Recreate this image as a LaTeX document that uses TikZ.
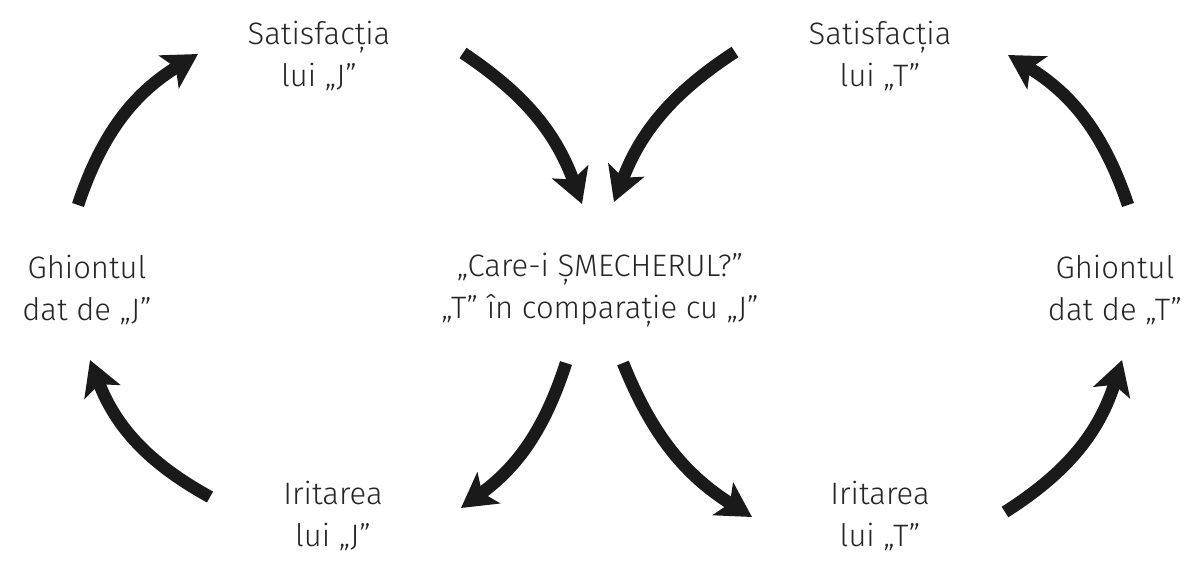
\documentclass[tikz,border=0pt]{standalone}
\usepackage{fontspec}
\setmainfont{Fira Sans}[UprightFont=* Light]
\usetikzlibrary{arrows.meta}
\definecolor{ink}{HTML}{1A1A1A}
\definecolor{txt}{HTML}{262626}
\tikzset{
  lbl/.style={align=center, text=txt, font=\fontsize{31}{42}\selectfont, inner sep=0pt},
  bigarrow/.style={draw=ink, line width=12.5pt,
    -{Stealth[length=34pt,width=38pt,inset=8pt]}},
}
\begin{document}
\begin{tikzpicture}[x=1pt,y=-1pt]
\useasboundingbox (0,0) rectangle (1196,563);

% labels
\node[lbl] (satJ) at (319,56) {Satisfacția\\lui „J”};
\node[lbl] (satT) at (880,56) {Satisfacția\\lui „T”};
\node[lbl] (ghJ) at (87,290) {Ghiontul\\dat de „J”};
\node[lbl] (ghT) at (1115,290) {Ghiontul\\dat de „T”};
\node[lbl] (mid) at (600,290) {„Care-i ȘMECHERUL?”\\„T” în comparație cu „J”};
\node[lbl] (irJ) at (333,516) {Iritarea\\lui „J”};
\node[lbl] (irT) at (880,516) {Iritarea\\lui „T”};

% arrow ends
\coordinate (a1s) at (210,497); \coordinate (a1e) at (90,360);
\coordinate (a2s) at (78,205);  \coordinate (a2e) at (198,54);
\coordinate (a3s) at (463,53);  \coordinate (a3e) at (582,204);
\coordinate (a4s) at (735,52);  \coordinate (a4e) at (614,202);
\coordinate (a5s) at (1128,205);\coordinate (a5e) at (1008,55);
\coordinate (a6s) at (1005,512);\coordinate (a6e) at (1122,360);
\coordinate (a7s) at (566,363); \coordinate (a7e) at (461,508);
\coordinate (a8s) at (623,363); \coordinate (a8e) at (752,517);

% cycle arrows
\draw[bigarrow] (a1s) to[bend left=20] (a1e);
\draw[bigarrow] (a2s) to[bend left=20] (a2e);
\draw[bigarrow] (a3s) to[bend left=18] (a3e);
\draw[bigarrow] (a4s) to[bend right=18] (a4e);
\draw[bigarrow] (a5s) to[bend right=20] (a5e);
\draw[bigarrow] (a6s) to[bend right=20] (a6e);
\draw[bigarrow] (a7s) to[bend left=18] (a7e);
\draw[bigarrow] (a8s) to[bend right=18] (a8e);
\end{tikzpicture}
\end{document}
